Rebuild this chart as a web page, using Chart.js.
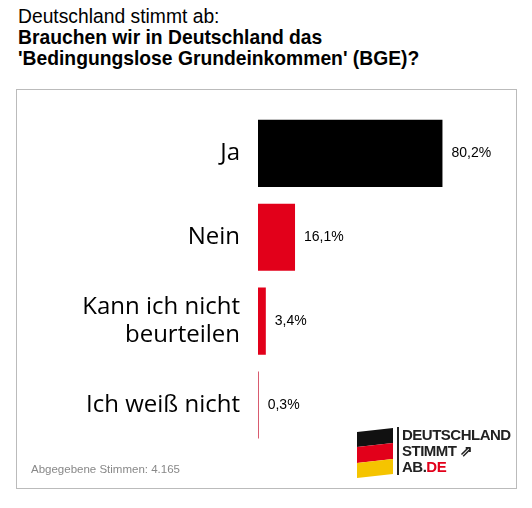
<!DOCTYPE html>
<html>
<head>
<meta charset="utf-8">
<script src="https://cdn.jsdelivr.net/npm/chart.js@4"></script>
<style>
  body { margin: 0; background: #fff; font-family: "Liberation Sans", Arial, sans-serif; }
  #head { position: absolute; left: 18px; top: 6px; font-size: 19.3px; line-height: 21px; color: #000; }
  #box { position: absolute; left: 16px; top: 89px; width: 499px; height: 398px; border: 1px solid #bbb; }
  #wrap { position: absolute; left: 0; top: -11px; width: 499px; height: 409px; }
  #votes { position: absolute; left: 14px; top: 373px; font-size: 11.5px; color: #888; }
  #logo { position: absolute; left: 357px; top: 426px; width: 150px; height: 52px; }
  #flag { position: absolute; left: 0; top: 4px; width: 36px; height: 46px; transform: skewY(-6deg); }
  #flag div { height: 33.3%; }
  #ltxt { position: absolute; left: 40px; top: 1px; border-left: 2px solid #222; padding-left: 3px;
          font: bold 15px/16px "Liberation Sans", Arial, sans-serif; color: #222; letter-spacing: -0.5px; }
</style>
</head>
<body>
<div id="head">Deutschland stimmt ab:<br><b>Brauchen wir in Deutschland das<br>'Bedingungslose Grundeinkommen' (BGE)?</b></div>
<div id="box">
  <div id="wrap"><canvas id="chart"></canvas></div>
  <div id="votes">Abgegebene Stimmen: 4.165</div>
</div>
<div id="logo">
  <div id="flag"><div style="background:#111"></div><div style="background:#e2001a"></div><div style="background:#f5c400"></div></div>
  <div id="ltxt">DEUTSCHLAND<br>STIMMT &#8663;<br>AB.<span style="color:#e2001a">DE</span></div>
</div>
<script>
const categories = ['Ja', 'Nein', ['Kann ich nicht', 'beurteilen'], 'Ich weiß nicht'];
const values = [80.2, 16.1, 3.4, 0.3];
const valueLabels = ['80,2%', '16,1%', '3,4%', '0,3%'];
const barColors = ['#000000', '#e2001a', '#e2001a', '#c8102e'];

const valuePlugin = {
  id: 'valueLabels',
  afterDatasetsDraw(chart) {
    const ctx = chart.ctx;
    ctx.save();
    ctx.font = '14px "Liberation Sans", Arial, sans-serif';
    ctx.fillStyle = '#000';
    ctx.textBaseline = 'middle';
    chart.getDatasetMeta(0).data.forEach((bar, i) => {
      ctx.fillText(valueLabels[i], bar.x + 9, bar.y);
    });
    ctx.restore();
  }
};

new Chart(document.getElementById('chart'), {
  type: 'bar',
  data: {
    labels: categories,
    datasets: [{ data: values, backgroundColor: barColors, barPercentage: 0.8, categoryPercentage: 1 }]
  },
  options: {
    indexAxis: 'y',
    responsive: true,
    maintainAspectRatio: false,
    animation: false,
    layout: { padding: { top: 6, bottom: 41, right: 28, left: 0 } },
    plugins: { legend: { display: false }, tooltip: { enabled: false } },
    scales: {
      x: { display: false, min: 0, max: 100 },
      y: {
        afterFit: s => { s.width = 241; },
        grid: { display: false, drawTicks: false },
        border: { display: false },
        ticks: { color: '#000', padding: 18, font: { size: 24, family: '"Open Sans", sans-serif' } }
      }
    }
  },
  plugins: [valuePlugin]
});
</script>
</body>
</html>
